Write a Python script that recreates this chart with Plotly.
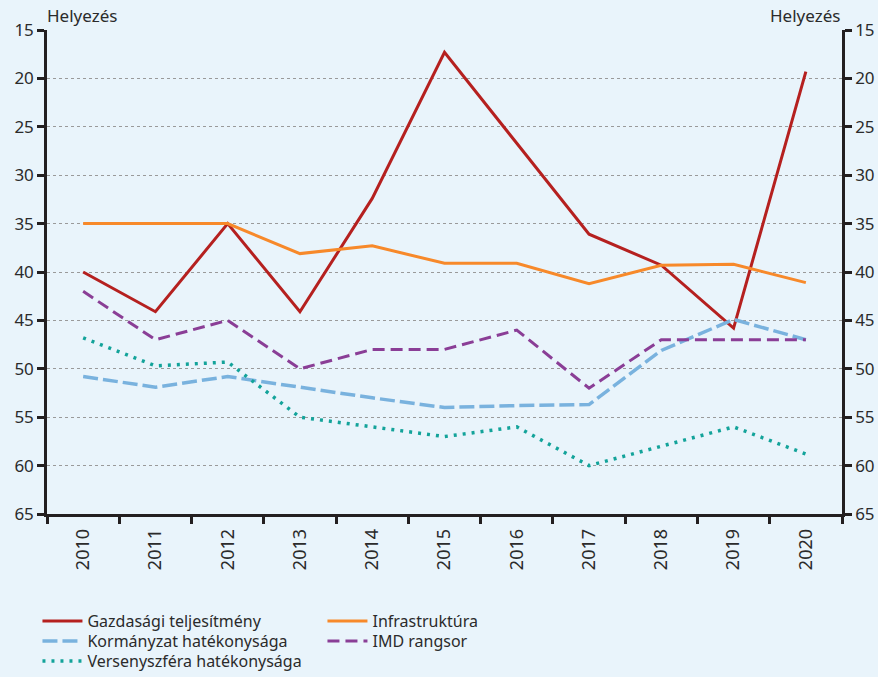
import plotly.graph_objects as go

years = ["2010", "2011", "2012", "2013", "2014", "2015", "2016", "2017", "2018", "2019", "2020"]
gazdasagi = [40, 44.1, 35, 44.1, 32.4, 17.3, 26.7, 36.1, 39.3, 45.8, 19.3]
infrastruktura = [35, 35, 35, 38.1, 37.3, 39.1, 39.1, 41.2, 39.3, 39.2, 41.1]
kormanyzat = [50.8, 51.9, 50.8, 51.9, 53, 54, 53.8, 53.7, 48.1, 44.9, 47]
imd = [42, 47, 45, 50, 48, 48, 46, 52, 47, 47, 47]
verseny = [46.8, 49.7, 49.3, 55, 56, 57, 56, 60, 58, 56, 58.8]
y_ticks = [15, 20, 25, 30, 35, 40, 45, 50, 55, 60, 65]
axis_title = "Helyezés"

FONT = "Noto Sans"
TXT = "#2b2b2b"
BG = "#E9F4FB"
FS = 17

fig = go.Figure()
fig.add_trace(go.Scatter(x=years, y=gazdasagi, name="Gazdasági teljesítmény", mode="lines",
                         legend="legend", line=dict(color="#B5201F", width=3)))
fig.add_trace(go.Scatter(x=years, y=infrastruktura, name="Infrastruktúra", mode="lines",
                         legend="legend", line=dict(color="#F7892A", width=3)))
fig.add_trace(go.Scatter(x=years, y=kormanyzat, name="Kormányzat hatékonysága", mode="lines",
                         legend="legend2", line=dict(color="#79B2DE", width=3.5, dash="15px,5px")))
fig.add_trace(go.Scatter(x=years, y=imd, name="IMD rangsor", mode="lines",
                         legend="legend2", line=dict(color="#8A3E96", width=3, dash="12px,6px")))
fig.add_trace(go.Scatter(x=years, y=verseny, name="Versenyszféra hatékonysága", mode="lines",
                         legend="legend3", line=dict(color="#13A39A", width=3.5, dash="3px,6px")))
# invisible trace to activate the right axis
fig.add_trace(go.Scatter(x=years, y=imd, yaxis="y2", mode="lines", showlegend=False,
                         hoverinfo="skip", line=dict(color="rgba(0,0,0,0)", width=0)))

yax = dict(range=[65, 15], tickvals=y_ticks, showline=True, linecolor="#231F20", linewidth=2.5,
           ticks="outside", ticklen=7, tickwidth=2.5, tickcolor="#231F20", automargin=False,
           tickfont=dict(family=FONT, size=FS, color=TXT), zeroline=False)

def leg(yrow):
    return dict(orientation="h", x=-0.012, xanchor="left", y=yrow, yanchor="middle",
                entrywidth=230, entrywidthmode="pixels",
                font=dict(family=FONT, size=16, color=TXT),
                bgcolor="rgba(0,0,0,0)", itemwidth=40)

def py(pix):
    # pixel row in page -> paper coordinate (plot area 30..514)
    return (514 - pix) / 484

fig.update_layout(
    width=878, height=677,
    paper_bgcolor=BG, plot_bgcolor=BG,
    margin=dict(l=47, r=36, t=30, b=163, autoexpand=False),
    font=dict(family=FONT, size=FS, color=TXT),
    xaxis=dict(type="category", range=[-0.5, 10.5], showline=True, linecolor="#231F20", linewidth=2.5,
               ticks="outside", ticklen=7, tickwidth=2.5, tickcolor="#231F20", automargin=False,
               tickson="boundaries", tickangle=-90, showgrid=False, ticklabelstandoff=5,
               tickfont=dict(family=FONT, size=18, color=TXT)),
    yaxis=dict(**yax, showgrid=True, gridcolor="#9A9A9A", griddash="dot", gridwidth=1),
    yaxis2=dict(**yax, overlaying="y", side="right", showgrid=False),
    legend=leg(py(621)),
    legend2=leg(py(641)),
    legend3=leg(py(661)),
    showlegend=True,
    annotations=[
        dict(text=axis_title, xref="paper", yref="paper", x=0, y=1, xanchor="left", yanchor="bottom",
             showarrow=False, yshift=1, xshift=-2, font=dict(family=FONT, size=FS, color=TXT)),
        dict(text=axis_title, xref="paper", yref="paper", x=1, y=1, xanchor="right", yanchor="bottom",
             showarrow=False, yshift=1, xshift=0, font=dict(family=FONT, size=FS, color=TXT)),
    ],
)

fig.write_html("out.html", post_script="document.body.style.margin='0';",
               config={"displayModeBar": False})
